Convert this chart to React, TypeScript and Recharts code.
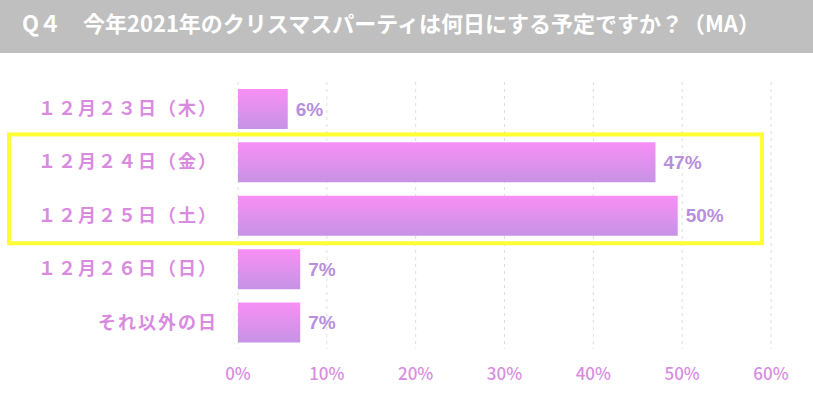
import { BarChart, Bar, XAxis, YAxis, CartesianGrid, LabelList, ReferenceArea } from "recharts"

const TITLE = "Q４　今年2021年のクリスマスパーティは何日にする予定ですか？（MA）"

const CATEGORIES = [
  "１２月２３日（木）",
  "１２月２４日（金）",
  "１２月２５日（土）",
  "１２月２６日（日）",
  "それ以外の日",
]
const VALUES = [5.6, 47.0, 49.5, 7.0, 7.0]
const X_TICKS = [0, 10, 20, 30, 40, 50, 60]

// highlighted rows (yellow frame)
const HIGHLIGHT_FROM = CATEGORIES[1]
const HIGHLIGHT_TO = CATEGORIES[2]

const chartData = CATEGORIES.map((name, i) => ({ name, value: VALUES[i] }))

const HighlightFrame = (props: any) => {
  const { y, height } = props
  return (
    <rect
      x={9}
      y={y - 1}
      width={753}
      height={height + 2}
      fill="none"
      stroke="#ffff33"
      strokeWidth={4}
    />
  )
}

export default function App() {
  return (
    <div style={{ position: "absolute", left: 0, top: 0, width: 813, height: 397, background: "#fff" }}>
      <div
        style={{
          height: 53,
          background: "#bfbfbf",
          color: "#fff",
          fontFamily: "'Noto Sans CJK JP', sans-serif",
          fontWeight: 700,
          fontSize: 22,
          lineHeight: "45px",
          paddingLeft: 22,
          whiteSpace: "nowrap",
        }}
      >
        {TITLE}
      </div>
      <BarChart
        width={813}
        height={344}
        data={chartData}
        layout="vertical"
        margin={{ top: 29, right: 42, bottom: 18, left: 0 }}
        barCategoryGap="13%"
      >
        <defs>
          <linearGradient id="barFill" x1="0" y1="0" x2="0" y2="1">
            <stop offset="0%" stopColor="#f88ff6" />
            <stop offset="100%" stopColor="#c693e6" />
          </linearGradient>
        </defs>
        <CartesianGrid horizontal={false} stroke="#dedede" strokeDasharray="3 4" />
        <XAxis
          type="number"
          domain={[0, 60]}
          ticks={X_TICKS}
          tickFormatter={(v) => `${v}%`}
          axisLine={false}
          tickLine={false}
          height={30}
          tickMargin={13}
          tick={{ fill: "#d98de2", fontSize: 17, fontWeight: 500, fontFamily: "'Noto Sans CJK JP', sans-serif" }}
        />
        <YAxis
          type="category"
          dataKey="name"
          width={238}
          axisLine={false}
          tickLine={false}
          tickMargin={14}
          tick={{
            fill: "#d98be0",
            fontSize: 18,
            fontWeight: 700,
            letterSpacing: 2,
            fontFamily: "'Noto Sans CJK JP', sans-serif",
          }}
        />
        <ReferenceArea y1={HIGHLIGHT_FROM} y2={HIGHLIGHT_TO} shape={HighlightFrame} />
        <Bar dataKey="value" fill="url(#barFill)" isAnimationActive={false}>
          <LabelList
            dataKey="value"
            position="right"
            offset={8}
            formatter={(v: any) => `${Math.round(Number(v))}%`}
            style={{
              fill: "#b88fdd",
              fontSize: 19,
              fontWeight: 700,
              fontFamily: "'Liberation Sans', Arial, sans-serif",
            }}
          />
        </Bar>
      </BarChart>
    </div>
  )
}
